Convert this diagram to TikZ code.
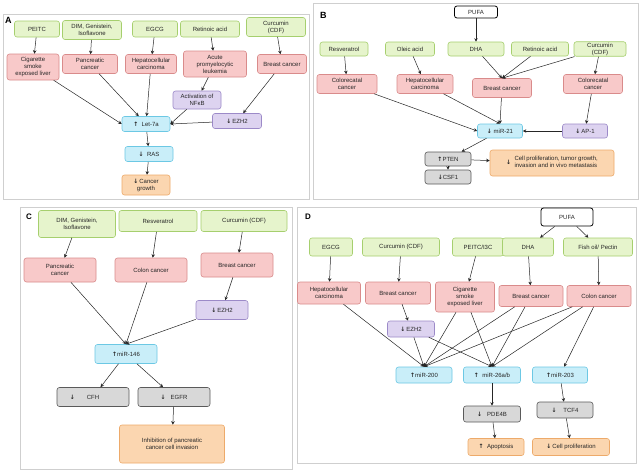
\documentclass[tikz,border=0pt]{standalone}
\usepackage{fontspec}
\setmainfont{Liberation Sans}
\newfontfamily\arrfont{DejaVu Sans}
\usetikzlibrary{arrows.meta,positioning}
\definecolor{grnFill}{HTML}{E6F4CC}
\definecolor{grnLine}{HTML}{A6CF6E}
\definecolor{redFill}{HTML}{F8C9C9}
\definecolor{redLine}{HTML}{D98B8B}
\definecolor{cynFill}{HTML}{C9EEF9}
\definecolor{cynLine}{HTML}{6CC8E4}
\definecolor{prpFill}{HTML}{DDD3F0}
\definecolor{prpLine}{HTML}{9C8AC8}
\definecolor{gryFill}{HTML}{D8D8D8}
\definecolor{gryLine}{HTML}{5A5A5A}
\definecolor{orgFill}{HTML}{FBD6B0}
\definecolor{orgLine}{HTML}{EDAA6A}
\definecolor{frameGray}{HTML}{CFCFCF}
\newcommand{\upa}{{\arrfont\bfseries ↑}}
\newcommand{\dna}{{\arrfont\bfseries ↓}}
\tikzset{
  % Base box for every panel
  mbox/.style={
    rounded corners=2.5pt, inner sep=1pt, align=center, line width=0.6pt,
    text=black!85, font=\fontsize{6}{7}\selectfont
  },
  % Agents (diet components)
  grn/.style={mbox, draw=grnLine, fill=grnFill},
  % Cancer types
  rd/.style={mbox, draw=redLine, fill=redFill},
  % microRNAs
  cyn/.style={mbox, draw=cynLine, fill=cynFill},
  % Intermediate regulators
  prp/.style={mbox, draw=prpLine, fill=prpFill},
  % Targets
  gry/.style={mbox, draw=gryLine, fill=gryFill},
  % Outcomes
  org/.style={mbox, draw=orgLine, fill=orgFill},
  % Parent source
  wht/.style={mbox, draw=black, fill=white, line width=0.8pt},
  % Panel frame and letter
  panel/.style={draw=frameGray, fill=white, line width=0.6pt},
  tag/.style={font=\bfseries\fontsize{9}{9}\selectfont, anchor=west, inner sep=0pt},
  arr/.style={-{Stealth[length=3.5pt,width=3.5pt]}, line width=0.5pt, draw=black!85},
}

\begin{document}
\begin{tikzpicture}[x=1pt,y=-1pt]
  \useasboundingbox (0,0) rectangle (640,474);
  \fill[white] (0,0) rectangle (640,474);
  % panel frames
  \draw[panel] (3,14) rectangle (309,199);
  \draw[panel] (313,3) rectangle (638,199);
  \draw[panel] (20,207) rectangle (292,469);
  \draw[panel] (297,207) rectangle (636,463);

  % ---------------- A ----------------
  \node[tag] (tA) at (5,20) {A};
  \node[grn, minimum width=45, minimum height=16] (aPeitc) at (37,29) {PEITC};
  \node[grn, minimum width=59, minimum height=19] (aDim) at (92,30) {DIM, Genistein,\\Isoflavone};
  \node[grn, minimum width=45, minimum height=16] (aEgcg) at (155,29) {EGCG};
  \node[grn, minimum width=59, minimum height=16] (aRet) at (210,29) {Retinoic acid};
  \node[grn, minimum width=59, minimum height=19] (aCur) at (276,27) {Curcumin\\(CDF)};
  \node[rd, minimum width=52, minimum height=26] (aCig) at (33,67) {Cigarette\\smoke\\exposed liver};
  \node[rd, minimum width=55, minimum height=19] (aPan) at (90,64) {Pancreatic\\cancer};
  \node[rd, minimum width=51, minimum height=19] (aHep) at (151,64) {Hepatocellular\\carcinoma};
  \node[rd, minimum width=63, minimum height=26] (aApl) at (215,64) {Acute\\promyelocytic\\leukemia};
  \node[rd, minimum width=49, minimum height=19] (aBre) at (282,64) {Breast cancer};
  \node[prp, minimum width=48, minimum height=18] (aNfk) at (197,100) {Activation of\\NFκB};
  \node[prp, minimum width=49, minimum height=15] (aEzh) at (237,121) {\dna\,EZH2};
  \node[cyn, minimum width=48, minimum height=15] (aLet) at (146,124) {\upa\;\;Let-7a};
  \node[cyn, minimum width=48, minimum height=15] (aRas) at (149,154) {\dna\;\;RAS};
  \node[org, minimum width=48, minimum height=20] (aGro) at (146,185) {\dna\,Cancer\\growth};
  \foreach \s/\t in {aPeitc/aCig,aDim/aPan,aEgcg/aHep,aRet/aApl,aCur/aBre,aApl/aNfk,aBre/aEzh,
                     aPan/aLet,aHep/aLet,aLet/aRas,aRas/aGro}{\draw[arr] (\s) -- (\t);}
  \draw[arr] (aCig) -- (aLet.west);
  \draw[arr] (aNfk) -- (aLet.east);
  \draw[arr] (aEzh) -- (aLet.east);

  % ---------------- B ----------------
  \node[tag] (tB) at (320,15) {B};
  \node[wht, minimum width=43, minimum height=12] (bPufa) at (476,12) {PUFA};
  \node[grn, minimum width=48, minimum height=14] (bRes) at (344,49) {Resveratrol};
  \node[grn, minimum width=49, minimum height=14] (bOle) at (410,49) {Oleic acid};
  \node[grn, minimum width=56, minimum height=14] (bDha) at (476,49) {DHA};
  \node[grn, minimum width=57, minimum height=14] (bRet) at (540,49) {Retinoic acid};
  \node[grn, minimum width=52, minimum height=14] (bCur) at (600,49) {Curcumin\\(CDF)};
  \node[rd, minimum width=60, minimum height=19] (bCol) at (347,84) {Colorecatal\\cancer};
  \node[rd, minimum width=56, minimum height=19] (bHep) at (425,84) {Hepatocellular\\carcinoma};
  \node[rd, minimum width=59, minimum height=19] (bBre) at (502,88) {Breast cancer};
  \node[rd, minimum width=59, minimum height=19] (bCol2) at (593,84) {Colorecatal\\cancer};
  \node[cyn, minimum width=45, minimum height=14] (bMir) at (500,131) {\dna\;miR-21};
  \node[prp, minimum width=45, minimum height=14] (bAp) at (585,131) {\dna\,AP-1};
  \node[gry, minimum width=46, minimum height=14] (bPten) at (448,159) {\upa PTEN};
  \node[gry, minimum width=46, minimum height=14] (bCsf) at (448,177) {\dna CSF1};
  \node[org, minimum width=124, minimum height=26, align=left] (bOut) at (552,163)
       {\dna\;\;\begin{tabular}{@{}l@{}}Cell proliferation, tumor growth,\\invasion and in vivo metastasis\end{tabular}};
  \foreach \s/\t in {bPufa/bDha,bRes/bCol,bOle/bHep,bCol2/bAp,bAp/bMir,bMir/bPten,bPten/bOut,bPten/bCsf}{\draw[arr] (\s) -- (\t);}
  \foreach \s in {bDha,bRet,bCur}{\draw[arr] (\s) -- (bBre.north);}
  \draw[arr] (bCur) -- (bCol2);
  \draw[arr] (bCol) -- (bMir.west);
  \draw[arr] (bHep) -- (bMir.north);
  \draw[arr] (bBre) -- (bMir.north);

  % ---------------- C ----------------
  \tikzset{every node/.append style={font=\fontsize{7.3}{8.5}\selectfont}}
  \node[tag, font=\bfseries\fontsize{8}{8}\selectfont] (tC) at (26,217) {C};
  \node[grn, minimum width=77, minimum height=27] (cDim) at (77,224) {DIM, Genistein,\\Isoflavone};
  \node[grn, minimum width=78, minimum height=21] (cRes) at (158,221) {Resveratrol};
  \node[grn, minimum width=86, minimum height=21] (cCur) at (244,221) {Curcumin (CDF)};
  \node[rd, minimum width=72, minimum height=24] (cPan) at (60,270) {Pancreatic\\cancer};
  \node[rd, minimum width=72, minimum height=24] (cCol) at (151,270) {Colon cancer};
  \node[rd, minimum width=72, minimum height=24] (cBre) at (237,265) {Breast cancer};
  \node[prp, minimum width=52, minimum height=19] (cEzh) at (222,310) {\dna\,EZH2};
  \node[cyn, minimum width=62, minimum height=19] (cMir) at (126,354) {\upa miR-146};
  \node[gry, minimum width=72, minimum height=19] (cCfh) at (93,397) {\dna\qquad CFH\qquad\phantom{\dna}};
  \node[gry, minimum width=72, minimum height=19] (cEgf) at (174,397) {\dna\;\;\;EGFR};
  \node[org, minimum width=105, minimum height=38] (cInh) at (172,444) {Inhibition of pancreatic\\cancer cell invasion};
  \foreach \s/\t in {cDim/cPan,cRes/cCol,cCur/cBre,cBre/cEzh,cMir/cCfh,cMir/cEgf,cEgf/cInh}{\draw[arr] (\s) -- (\t);}
  \foreach \s in {cPan,cCol,cEzh}{\draw[arr] (\s) -- (cMir.north);}

  % ---------------- D ----------------
  \tikzset{every node/.append style={font=\fontsize{6.8}{8}\selectfont}}
  \node[tag, font=\bfseries\fontsize{8}{8}\selectfont] (tD) at (305,217) {D};
  \node[wht, minimum width=52, minimum height=18] (dPufa) at (567,217) {PUFA};
  \node[grn, minimum width=43, minimum height=18] (dEgcg) at (331,247) {EGCG};
  \node[grn, minimum width=77, minimum height=18] (dCur) at (401,247) {Curcumin (CDF)};
  \node[grn, minimum width=51, minimum height=18] (dPei) at (478,247) {PEITC/I3C};
  \node[grn, minimum width=51, minimum height=18] (dDha) at (528,247) {DHA};
  \node[grn, minimum width=69, minimum height=18] (dFis) at (598,247) {Fish oil/ Pectin};
  \node[rd, minimum width=63, minimum height=22] (dHep) at (329,293) {Hepatocellular\\carcinoma};
  \node[rd, minimum width=65, minimum height=22] (dBre) at (398,293) {Breast cancer};
  \node[rd, minimum width=59, minimum height=30] (dCig) at (465,297) {Cigarette\\smoke\\exposed liver};
  \node[rd, minimum width=64, minimum height=21] (dBre2) at (531,296) {Breast cancer};
  \node[rd, minimum width=64, minimum height=21] (dCol) at (599,296) {Colon cancer};
  \node[prp, minimum width=47, minimum height=16] (dEzh) at (411,329) {\dna\,EZH2};
  \node[cyn, minimum width=56, minimum height=16] (d200) at (424,375) {\upa miR-200};
  \node[cyn, minimum width=57, minimum height=16] (d26) at (492,375) {\upa\; miR-26a/b};
  \node[cyn, minimum width=55, minimum height=16] (d203) at (560,375) {\upa miR-203};
  \node[gry, minimum width=57, minimum height=16] (dPde) at (492,414) {\dna\;\; PDE4B};
  \node[gry, minimum width=56, minimum height=16] (dTcf) at (565,410) {\dna\;\;\; TCF4};
  \node[org, minimum width=56, minimum height=17] (dApo) at (496,447) {\upa\; Apoptosis};
  \node[org, minimum width=77, minimum height=17] (dPro) at (571,447) {\dna\,Cell proliferation};
  \foreach \s/\t in {dPufa/dDha,dPufa/dFis,dEgcg/dHep,dCur/dBre,dPei/dCig,dDha/dBre2,dFis/dCol,
                     dBre/dEzh,dCol/d203,d26/dPde,d203/dTcf,dPde/dApo,dTcf/dPro}{\draw[arr] (\s) -- (\t);}
  \foreach \s in {dHep,dEzh,dCig,dBre2,dCol}{\draw[arr] (\s) -- (d200.north);}
  \foreach \s in {dEzh,dCig,dBre2,dCol}{\draw[arr] (\s) -- (d26.north);}
\end{tikzpicture}
\end{document}
